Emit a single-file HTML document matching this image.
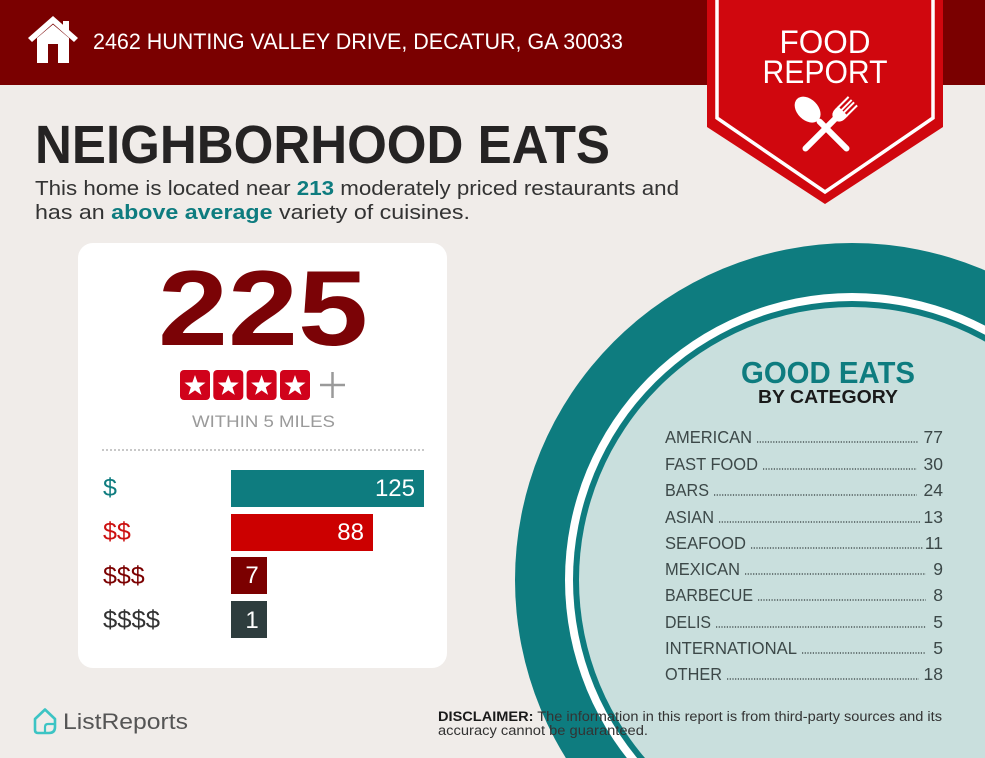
<!DOCTYPE html>
<html><head><meta charset="utf-8"><style>
html,body{margin:0;padding:0;background:#f0ece9;width:985px;height:758px;overflow:hidden;}
svg{display:block;overflow:hidden;}
text{font-family:"Liberation Sans",Arial,sans-serif;}
</style></head><body>
<svg width="985" height="758" viewBox="0 0 985 758" xmlns="http://www.w3.org/2000/svg">
<defs><clipPath id="pg"><rect x="0" y="0" width="985" height="758"/></clipPath></defs>
<rect width="985" height="758" fill="#f0ece9"/>
<!-- header -->
<rect x="0" y="0" width="985" height="85" fill="#7a0000"/>
<!-- house icon -->
<g fill="#ffffff">
<path d="M28,38 L53,16 L78,38 L74,42 L53,23.5 L32,42 Z"/>
<rect x="63" y="21" width="6" height="10"/>
<path d="M37,38 L53,24.5 L69,38 L69,63 L37,63 Z"/>
</g>
<rect x="48" y="44" width="10" height="19" fill="#7a0000"/>
<text x="93" y="49" font-size="22" fill="#ffffff" textLength="530" lengthAdjust="spacingAndGlyphs">2462 HUNTING VALLEY DRIVE, DECATUR, GA 30033</text>

<!-- banner -->
<path d="M707,0 L943,0 L943,127 L825,204 L707,127 Z" fill="#d0070e"/>
<path d="M717,0 L717,118 L825,192 L933,118 L933,0" fill="none" stroke="#ffffff" stroke-width="3.5"/>
<text x="825" y="53" font-size="32" fill="#ffffff" text-anchor="middle" textLength="91" lengthAdjust="spacingAndGlyphs">FOOD</text>
<text x="825" y="83" font-size="32" fill="#ffffff" text-anchor="middle" textLength="125" lengthAdjust="spacingAndGlyphs">REPORT</text>
<!-- spoon -->
<g transform="translate(826,128) rotate(-45)" fill="#ffffff">
<rect x="-3" y="-12" width="6" height="44" rx="3"/>
<ellipse cx="0" cy="-26" rx="10.5" ry="15"/>
</g>
<!-- fork -->
<g transform="translate(826,128) rotate(45)" fill="#ffffff">
<rect x="-3" y="-16" width="6" height="48" rx="3"/>
<path d="M-7,-24 L7,-24 L7,-20 Q7,-14 2,-12 L-2,-12 Q-7,-14 -7,-20 Z"/>
<rect x="-7" y="-38" width="2" height="15"/>
<rect x="-2.7" y="-38" width="2" height="15"/>
<rect x="0.7" y="-38" width="2" height="15"/>
<rect x="5" y="-38" width="2" height="15"/>
</g>

<!-- title -->
<text x="35" y="163" font-size="54" font-weight="bold" fill="#252323" textLength="575" lengthAdjust="spacingAndGlyphs">NEIGHBORHOOD EATS</text>
<text x="35" y="195" font-size="20" fill="#333333" textLength="644" lengthAdjust="spacingAndGlyphs">This home is located near <tspan font-weight="bold" fill="#0e7c7f">213</tspan> moderately priced restaurants and</text>
<text x="35" y="219" font-size="20" fill="#333333" textLength="435" lengthAdjust="spacingAndGlyphs">has an <tspan font-weight="bold" fill="#0e7c7f">above average</tspan> variety of cuisines.</text>

<!-- card -->
<rect x="78" y="243" width="369" height="425" rx="15" fill="#ffffff"/>
<text x="263" y="345" font-size="107" font-weight="bold" fill="#7b0306" text-anchor="middle" textLength="210" lengthAdjust="spacingAndGlyphs">225</text>
<!-- stars -->
<g>
<rect x="180" y="370" width="30" height="30" rx="4" fill="#d0021b"/>
<rect x="213.3" y="370" width="30" height="30" rx="4" fill="#d0021b"/>
<rect x="246.6" y="370" width="30" height="30" rx="4" fill="#d0021b"/>
<rect x="280" y="370" width="30" height="30" rx="4" fill="#d0021b"/>
<g fill="#ffffff">
<path transform="translate(195,386)" d="M0,-11 L2.6,-3.6 L10.5,-3.4 L4.2,1.4 L6.5,8.9 L0,4.4 L-6.5,8.9 L-4.2,1.4 L-10.5,-3.4 L-2.6,-3.6 Z"/>
<path transform="translate(228.3,386)" d="M0,-11 L2.6,-3.6 L10.5,-3.4 L4.2,1.4 L6.5,8.9 L0,4.4 L-6.5,8.9 L-4.2,1.4 L-10.5,-3.4 L-2.6,-3.6 Z"/>
<path transform="translate(261.6,386)" d="M0,-11 L2.6,-3.6 L10.5,-3.4 L4.2,1.4 L6.5,8.9 L0,4.4 L-6.5,8.9 L-4.2,1.4 L-10.5,-3.4 L-2.6,-3.6 Z"/>
<path transform="translate(295,386)" d="M0,-11 L2.6,-3.6 L10.5,-3.4 L4.2,1.4 L6.5,8.9 L0,4.4 L-6.5,8.9 L-4.2,1.4 L-10.5,-3.4 L-2.6,-3.6 Z"/>
</g>
</g>
<path d="M320,385 L345,385 M332.5,372 L332.5,398" stroke="#9a9a9a" stroke-width="2.5"/>
<text x="192" y="427" font-size="17" fill="#9a9a9a" textLength="143" lengthAdjust="spacingAndGlyphs">WITHIN 5 MILES</text>
<line x1="102" y1="450" x2="424" y2="450" stroke="#a8a8a8" stroke-width="1.2" stroke-dasharray="2 2"/>

<!-- bars -->
<rect x="231" y="470" width="193" height="37" fill="#0e7c7f"/>
<rect x="231" y="514" width="142" height="37" fill="#cc0000"/>
<rect x="231" y="557" width="36" height="37" fill="#7b0000"/>
<rect x="231" y="601" width="36" height="37" fill="#2e3d3e"/>
<text x="415" y="496" font-size="24" fill="#ffffff" text-anchor="end">125</text>
<text x="364" y="540" font-size="24" fill="#ffffff" text-anchor="end">88</text>
<text x="252" y="583" font-size="24" fill="#ffffff" text-anchor="middle">7</text>
<text x="252" y="628" font-size="24" fill="#ffffff" text-anchor="middle">1</text>
<text x="103" y="496" font-size="25" fill="#0e7c7f">$</text>
<text x="103" y="540" font-size="25" fill="#cc1010">$$</text>
<text x="103" y="584" font-size="25" fill="#7b0000">$$$</text>
<text x="103" y="628" font-size="25" fill="#333333" textLength="57" lengthAdjust="spacingAndGlyphs">$$$$</text>

<!-- circle -->
<g clip-path="url(#pg)">
<circle cx="852" cy="580" r="337" fill="#0e7c7f"/>
<circle cx="852" cy="580" r="287" fill="#ffffff"/>
<circle cx="852" cy="580" r="279" fill="#0e7c7f"/>
<circle cx="852" cy="580" r="273" fill="#c9dfdd"/>
</g>

<text x="741" y="383" font-size="31" font-weight="bold" fill="#0e7c7f" textLength="174" lengthAdjust="spacingAndGlyphs">GOOD EATS</text>
<text x="758" y="403" font-size="18" font-weight="bold" fill="#1a1a1a" textLength="140" lengthAdjust="spacingAndGlyphs">BY CATEGORY</text>

<g font-size="17.5" fill="#3c4848">
<text x="665" y="443" textLength="87" lengthAdjust="spacingAndGlyphs">AMERICAN</text>
<text x="665" y="470" textLength="93" lengthAdjust="spacingAndGlyphs">FAST FOOD</text>
<text x="665" y="496" textLength="44" lengthAdjust="spacingAndGlyphs">BARS</text>
<text x="665" y="523" textLength="49" lengthAdjust="spacingAndGlyphs">ASIAN</text>
<text x="665" y="549" textLength="81" lengthAdjust="spacingAndGlyphs">SEAFOOD</text>
<text x="665" y="575" textLength="75" lengthAdjust="spacingAndGlyphs">MEXICAN</text>
<text x="665" y="601" textLength="88" lengthAdjust="spacingAndGlyphs">BARBECUE</text>
<text x="665" y="628" textLength="46" lengthAdjust="spacingAndGlyphs">DELIS</text>
<text x="665" y="654" textLength="132" lengthAdjust="spacingAndGlyphs">INTERNATIONAL</text>
<text x="665" y="680" textLength="57" lengthAdjust="spacingAndGlyphs">OTHER</text>
</g>
<g font-size="17.5" fill="#3c4848" text-anchor="end">
<text x="943" y="443">77</text>
<text x="943" y="470">30</text>
<text x="943" y="496">24</text>
<text x="943" y="523">13</text>
<text x="943" y="549">11</text>
<text x="943" y="575">9</text>
<text x="943" y="601">8</text>
<text x="943" y="628">5</text>
<text x="943" y="654">5</text>
<text x="943" y="680">18</text>
</g>
<g stroke="#4a5656" stroke-width="1.4" stroke-dasharray="1.2 1.5">
<line x1="757" y1="442" x2="918" y2="442"/>
<line x1="763" y1="469" x2="917" y2="469"/>
<line x1="714" y1="495" x2="917" y2="495"/>
<line x1="719" y1="522" x2="920" y2="522"/>
<line x1="751" y1="548" x2="923" y2="548"/>
<line x1="745" y1="574" x2="926" y2="574"/>
<line x1="758" y1="600" x2="926" y2="600"/>
<line x1="716" y1="627" x2="926" y2="627"/>
<line x1="802" y1="653" x2="926" y2="653"/>
<line x1="727" y1="679" x2="919" y2="679"/>
</g>

<!-- disclaimer -->
<text x="438" y="721" font-size="13.5" fill="#333333" textLength="504" lengthAdjust="spacingAndGlyphs"><tspan font-weight="bold" fill="#1a1a1a">DISCLAIMER:</tspan> The information in this report is from third-party sources and its</text>
<text x="438" y="735" font-size="13.5" fill="#333333" textLength="210" lengthAdjust="spacingAndGlyphs">accuracy cannot be guaranteed.</text>

<!-- logo -->
<path d="M35,719 L45,709.5 L55,719 L55,727 Q55,733 49,733 L38,733 Q35,733 35,730 Z" fill="none" stroke="#3cc4c4" stroke-width="2.6" stroke-linejoin="round"/>
<path d="M45,733 L45,727 Q45,724 48,724 L55,724" fill="none" stroke="#3cc4c4" stroke-width="2.2"/>
<text x="63" y="729" font-size="22" fill="#555555" textLength="125" lengthAdjust="spacingAndGlyphs">ListReports</text>
</svg>
</body></html>
